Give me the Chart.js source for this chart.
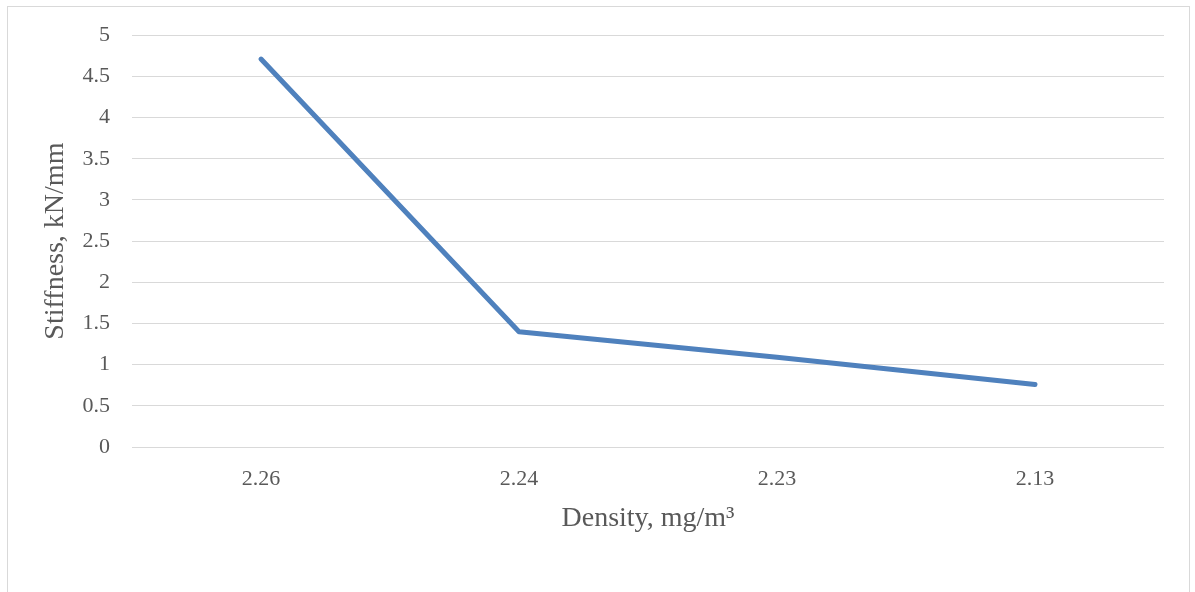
<!DOCTYPE html>
<html>
<head>
<meta charset="utf-8">
<script src="https://cdn.jsdelivr.net/npm/chart.js@4"></script>
<style>
    body { margin: 0; background: #fff; }
    #wrap { position: relative; width: 1195px; height: 592px; overflow: hidden; }
    #frame { position: absolute; left: 7px; top: 6px; width: 1181px; height: 640px; border: 1px solid #d9d9d9; }
    #chart1 { position: absolute; left: 0; top: 0; }
</style>
</head>
<body>
<div id="wrap">
    <div id="frame"></div>
    <canvas id="chart1" width="1195" height="592"></canvas>
</div>
<script>
var densities = ['2.26', '2.24', '2.23', '2.13'];
var stiffness = [4.71, 1.40, 1.09, 0.76];
var yTicks = [0, 0.5, 1, 1.5, 2, 2.5, 3, 3.5, 4, 4.5, 5];

var serif = "'Liberation Serif', 'Times New Roman', serif";
var grey = '#595959';

var ctx = document.getElementById('chart1');
var myChart = new Chart(ctx, {
    type: 'line',
    data: {
        labels: densities,
        datasets: [{
            label: 'Stiffness',
            data: stiffness,
            borderColor: '#4f81bd',
            borderWidth: 5,
            borderCapStyle: 'round',
            borderJoinStyle: 'round',
            pointRadius: 0,
            tension: 0,
            fill: false
        }]
    },
    options: {
        responsive: false,
        animation: false,
        layout: {
            padding: { left: 0, right: 31, top: 35, bottom: 45 }
        },
        plugins: {
            legend: { display: false },
            tooltip: { enabled: false }
        },
        scales: {
            x: {
                offset: true,
                grid: { display: false },
                border: { display: false },
                ticks: {
                    color: grey,
                    padding: 11,
                    font: { family: serif, size: 22 }
                },
                title: {
                    display: true,
                    text: 'Density, mg/m³',
                    color: grey,
                    padding: { top: 0, bottom: 12 },
                    font: { family: serif, size: 28 }
                },
                afterFit: function(scale) {
                    scale.height = 100;
                }
            },
            y: {
                min: 0,
                max: 5,
                afterBuildTicks: function(scale) {
                    scale.ticks = yTicks.map(function(v) { return { value: v }; });
                },
                grid: {
                    color: '#d9d9d9',
                    lineWidth: 1,
                    drawTicks: false
                },
                border: { display: false },
                ticks: {
                    color: grey,
                    padding: 22,
                    font: { family: serif, size: 22 },
                    callback: function(v) { return String(v); }
                },
                title: {
                    display: true,
                    text: 'Stiffness, kN/mm',
                    color: grey,
                    padding: { top: 39, bottom: 0 },
                    font: { family: serif, size: 28 }
                },
                afterFit: function(scale) {
                    scale.width = 132;
                }
            }
        }
    }
});
</script>
</body>
</html>
